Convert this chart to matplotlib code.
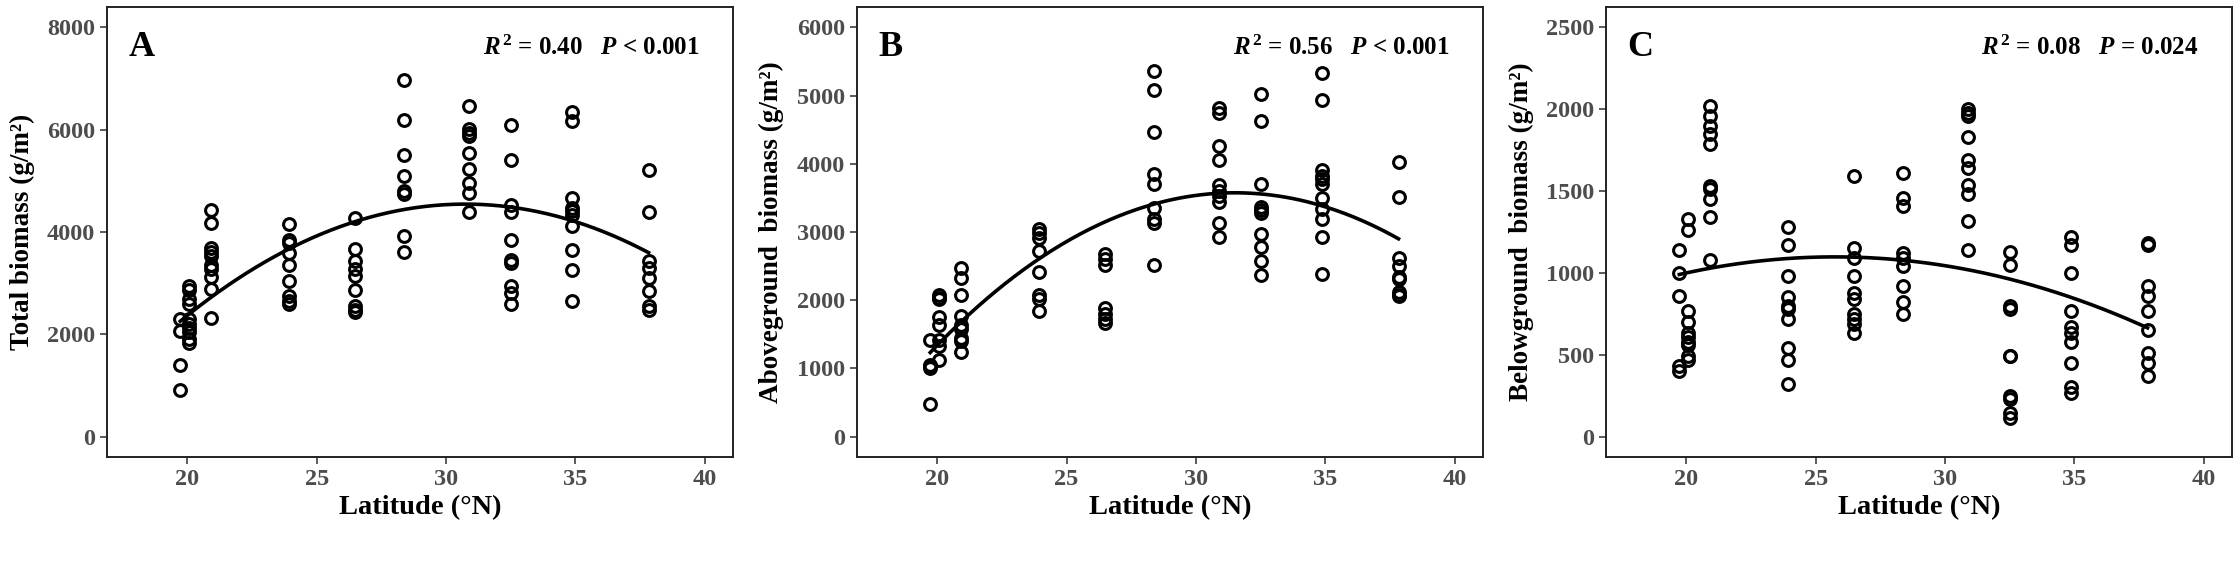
import numpy as np
import matplotlib.pyplot as plt

plt.rcParams['font.family'] = ['Liberation Serif', 'DejaVu Serif']
plt.rcParams['mathtext.fontset'] = 'custom'
plt.rcParams['mathtext.rm'] = 'Liberation Serif'
plt.rcParams['mathtext.bf'] = 'Liberation Serif:bold'
plt.rcParams['mathtext.it'] = 'Liberation Serif:italic'
plt.rcParams['mathtext.bfit'] = 'Liberation Serif:bold:italic'

# site latitudes (deg N)
lat_sites = [19.73, 20.05, 20.93, 23.95, 26.48, 28.37, 30.88, 32.51, 34.86, 37.83]

# total biomass (g/m2), one list per site
total = [
    [2290, 2060, 1400, 910],
    [2950, 2870, 2680, 2600, 2290, 2200, 2120, 2050, 1900, 1830],
    [4430, 4170, 3690, 3610, 3530, 3360, 3280, 3120, 2890, 2310],
    [4150, 3840, 3790, 3580, 3360, 3040, 2740, 2650, 2600],
    [4280, 3670, 3430, 3270, 3140, 2870, 2560, 2480, 2430],
    [6970, 6190, 5500, 5100, 4800, 4750, 3920, 3610],
    [6470, 6010, 5940, 5880, 5550, 5230, 4960, 4770, 4400],
    [6090, 5400, 4530, 4400, 3850, 3450, 3400, 2940, 2810, 2600],
    [6340, 6170, 4670, 4470, 4410, 4340, 4120, 3650, 3250, 2650],
    [5210, 4400, 3430, 3300, 3100, 2840, 2560, 2480],
]

# aboveground biomass (g/m2)
above = [
    [1420, 1050, 1030, 1000, 480],
    [2080, 2030, 2010, 1760, 1640, 1420, 1330, 1120],
    [2470, 2330, 2080, 1770, 1640, 1570, 1440, 1400, 1240],
    [3040, 2980, 2910, 2720, 2410, 2080, 2010, 1840],
    [2670, 2600, 2520, 1880, 1800, 1730, 1660],
    [5360, 5080, 4460, 3850, 3700, 3350, 3190, 3130, 2520],
    [4820, 4750, 4260, 4050, 3690, 3600, 3530, 3440, 3130, 2920],
    [5030, 4630, 3710, 3360, 3320, 3280, 2970, 2780, 2570, 2370],
    [5330, 4940, 3910, 3820, 3770, 3700, 3500, 3340, 3190, 2920, 2380],
    [4030, 3520, 2620, 2500, 2340, 2310, 2120, 2080, 2060],
]

# belowground biomass (g/m2)
below = [
    [1140, 1000, 860, 430, 400],
    [1330, 1260, 770, 700, 630, 610, 580, 560, 490, 470],
    [2020, 1960, 1900, 1850, 1790, 1530, 1510, 1450, 1340, 1080],
    [1280, 1170, 980, 850, 800, 780, 720, 540, 470, 320],
    [1590, 1150, 1090, 980, 880, 840, 750, 720, 690, 630],
    [1610, 1460, 1410, 1120, 1090, 1040, 920, 820, 750],
    [2000, 1980, 1960, 1830, 1690, 1640, 1540, 1480, 1320, 1140],
    [1130, 1050, 800, 780, 490, 490, 245, 230, 145, 112],
    [1220, 1170, 1000, 770, 670, 630, 580, 450, 305, 265],
    [1180, 1170, 920, 860, 770, 650, 510, 450, 370],
]

panels = [
    ('A', total, 'Total biomass (g/m\u00b2)', [0, 2000, 4000, 6000, 8000], 8000,
     r'$\mathbfit{R}^{\,\mathbf{2}}$ = 0.40   $\mathbfit{P}$ < 0.001'),
    ('B', above, 'Aboveground  biomass (g/m\u00b2)', [0, 1000, 2000, 3000, 4000, 5000, 6000], 6000,
     r'$\mathbfit{R}^{\,\mathbf{2}}$ = 0.56   $\mathbfit{P}$ < 0.001'),
    ('C', below, 'Belowground  biomass (g/m\u00b2)', [0, 500, 1000, 1500, 2000, 2500], 2500,
     r'$\mathbfit{R}^{\,\mathbf{2}}$ = 0.08   $\mathbfit{P}$ = 0.024'),
]

lefts = [0.0478, 0.3826, 0.717]
grey = '#4d4d4d'

fig = plt.figure(figsize=(22.4, 5.84), dpi=100)

for left, (letter, vals, ylab, yticks, ymax, stat) in zip(lefts, panels):
    ax = fig.add_axes([left, 0.2175, 0.2795, 0.7705])
    x = np.concatenate([[lat_sites[i]] * len(v) for i, v in enumerate(vals)])
    y = np.concatenate([np.array(v, float) for v in vals])
    ax.plot(x, y, 'o', mfc='none', mec='black', mew=2.2, ms=8.5)

    # quadratic fit
    coef = np.polyfit(x, y, 2)
    xs = np.linspace(x.min(), x.max(), 200)
    ax.plot(xs, np.polyval(coef, xs), color='black', lw=2.6)

    ax.set_xlim(16.9, 41.1)
    ax.set_ylim(-0.05 * ymax, 1.05 * ymax)
    ax.set_xticks([20, 25, 30, 35, 40])
    ax.set_yticks(yticks)
    ax.tick_params(colors=grey, labelsize=17.5, width=1.3, length=5)
    for lab in ax.get_xticklabels() + ax.get_yticklabels():
        lab.set_fontweight('bold')
    for s in ax.spines.values():
        s.set_linewidth(1.4)
        s.set_color('#222222')
    ax.set_xlabel('Latitude (\u00b0N)', fontsize=20.5, fontweight='bold', labelpad=4)
    ax.set_ylabel(ylab, fontsize=19.5, fontweight='bold', labelpad=9)
    ax.text(0.034, 0.91, letter, transform=ax.transAxes, fontsize=26,
            fontweight='bold', va='center', ha='left')
    ax.text(0.947, 0.91, stat, transform=ax.transAxes, fontsize=18,
            fontweight='bold', va='center', ha='right')

fig.savefig('out.png', dpi=100)
